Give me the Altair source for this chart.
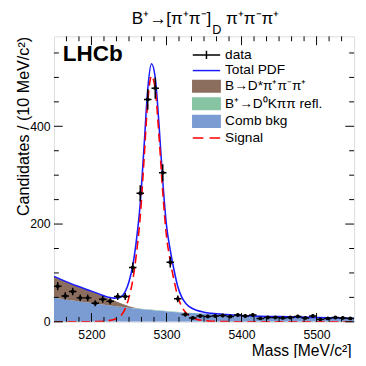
import altair as alt
import pandas as pd
import numpy as np

# ---------------- data ----------------
bin_centers = [5155, 5165, 5175, 5185, 5195, 5205, 5215, 5225, 5235, 5245,
               5255, 5265, 5275, 5285, 5295, 5305, 5315, 5325, 5335, 5345,
               5355, 5365, 5375, 5385, 5395, 5405, 5415, 5425, 5435, 5445,
               5455, 5465, 5475, 5485, 5495, 5505, 5515, 5525, 5535, 5545]
counts = [73, 53, 62, 49, 49, 38, 46, 42, 52, 52,
          111, 263, 455, 478, 305, 122, 47, 15, 8, 12,
          11, 12, 13, 11, 14, 12, 14, 7, 9, 9,
          8, 9, 11, 8, 12, 5, 7, 9, 8, 7]

curve_mass = [5150, 5180, 5200, 5210, 5220, 5225, 5230, 5235, 5240, 5245,
              5250, 5255, 5260, 5265, 5270, 5275, 5280, 5285, 5290, 5295,
              5300, 5305, 5310, 5315, 5320, 5325, 5330, 5340, 5350, 5360,
              5380, 5400, 5450, 5500, 5550]
comb_bkg = [50, 42.5, 38.5, 36.5, 34.5, 33.5, 32.5, 31.6, 30.7, 29.8,
            28.9, 28, 27.2, 26.4, 25.6, 24.8, 24.1, 23.4, 22.7, 22,
            21.4, 20.8, 20.2, 19.6, 19, 18.4, 17.9, 17.5, 16.8, 16,
            14.3, 12.8, 10.5, 8.8, 7.4]
refl_bkg = [0, 0, 0, 0, 0, 0, 0, 0, 0, 0,
            0.1, 0.3, 0.5, 0.7, 0.8, 0.9, 1.0, 1.0, 1.0, 1.0,
            0.9, 0.9, 0.8, 0.8, 0.7, 0.7, 0.6, 0.5, 0.3, 0.2,
            0.1, 0, 0, 0, 0]
dstar_bkg = [43, 31, 24, 20, 15, 13, 11, 9, 7, 5,
             3, 1.5, 0.5, 0, 0, 0, 0, 0, 0, 0,
             0, 0, 0, 0, 0, 0, 0, 0, 0, 0,
             0, 0, 0, 0, 0]
signal = [0, 0.1, 0.3, 0.7, 1.8, 3, 5, 8, 14, 27,
          50, 85, 140, 215, 330, 450, 503, 475, 380, 265,
          175, 125, 85, 52, 32, 20, 13, 5.5, 2.5, 1.2,
          0.4, 0.2, 0.1, 0, 0]

legend_names = ["data", "Total PDF", "B→D*π⁺π⁻π⁺", "B⁺→D⁰Kππ refl.", "Comb bkg", "Signal"]
legend_colors = ["#000000", "#1a1aff", "#8c6e5f", "#86c4a4", "#7b9bd3", "#ff0000"]
legend_paths = ["M-2,0H2M0,-0.6V0.6",
                "M-2,0H2",
                "M-2,-0.85H2V0.85H-2Z",
                "M-2,-0.85H2V0.85H-2Z",
                "M-2,-0.85H2V0.85H-2Z",
                "M-2,0H-0.45M0.45,0H2"]

x_major = [5200, 5300, 5400, 5500]
x_minor = [5166.67, 5183.33, 5216.67, 5233.33, 5250, 5266.67, 5283.33,
           5316.67, 5333.33, 5350, 5366.67, 5383.33, 5416.67, 5433.33,
           5450, 5466.67, 5483.33, 5516.67, 5533.33]
y_major = [0, 200, 400]
y_minor = [50, 100, 150, 250, 300, 350, 450, 500, 550]

X_DOMAIN = [5150, 5550]
Y_DOMAIN = [0, 584]
W, H = 307, 292
FONT = "Liberation Sans"

# ---------------- frames ----------------
d = pd.DataFrame({"m": bin_centers, "n": counts})
err = np.sqrt(d["n"])
d["lo"] = d["n"] - err
d["hi"] = d["n"] + err
d["mlo"] = d["m"] - 5
d["mhi"] = d["m"] + 5

c = pd.DataFrame({"m": curve_mass, "comb": comb_bkg})
c["zero"] = 0.0
c["c1"] = c["comb"] + np.array(refl_bkg)
c["c2"] = c["c1"] + np.array(dstar_bkg)
c["signal"] = signal
c["total"] = c["c2"] + c["signal"]

xscale = alt.Scale(domain=X_DOMAIN, nice=False, zero=False)
yscale = alt.Scale(domain=Y_DOMAIN, nice=False)

xaxis = alt.Axis(values=x_major, format="d", ticks=False, domain=False, grid=False,
                 labelPadding=7, labelFontSize=12.5, labelFont=FONT, labelColor="#000",
                 title="Mass [MeV/c²]", titleFont=FONT, titleFontSize=16,
                 titleFontWeight="normal", titleColor="#000",
                 titleX=304, titleY=29, titleAlign="right", titleBaseline="middle")
yaxis = alt.Axis(values=y_major, format="d", ticks=False, domain=False, grid=False,
                 labelPadding=4, labelFontSize=12.5, labelFont=FONT, labelColor="#000",
                 title="Candidates / (10 MeV/c²)", titleFont=FONT, titleFontSize=16.5,
                 titleFontWeight="normal", titleColor="#000", titleAngle=270,
                 titleX=-31, titleY=0, titleAlign="right", titleBaseline="middle")


def X(field):
    return alt.X(field, type="quantitative", scale=xscale, axis=xaxis)


def Y(field):
    return alt.Y(field, type="quantitative", scale=yscale, axis=yaxis)


base_c = alt.Chart(c)

comb_area = base_c.mark_area(color="#7b9bd3", interpolate="monotone", clip=True).encode(
    x=X("m"), y=Y("comb"), y2="zero")
refl_area = base_c.mark_area(color="#86c4a4", interpolate="monotone", clip=True).encode(
    x=X("m"), y=Y("c1"), y2="comb")
dstar_area = base_c.mark_area(color="#8c6e5f", interpolate="monotone", clip=True).encode(
    x=X("m"), y=Y("c2"), y2="c1")
total_line = base_c.mark_line(color="#1a1aff", strokeWidth=1.6, interpolate="monotone",
                              clip=True).encode(x=X("m"), y=Y("total"))
sig_line = base_c.mark_line(color="#ff0000", strokeWidth=1.6, strokeDash=[9, 5],
                            interpolate="monotone", clip=True).encode(x=X("m"), y=Y("signal"))

base_d = alt.Chart(d)
verr = base_d.mark_rule(color="#000", strokeWidth=1.5, clip=True).encode(
    x=X("m"), y=Y("lo"), y2="hi")
herr = base_d.mark_rule(color="#000", strokeWidth=1.5, clip=True).encode(
    x=X("mlo"), x2="mhi", y=Y("n"))
pts = base_d.mark_point(filled=True, shape="circle", size=16, color="#000",
                        opacity=1, clip=True).encode(x=X("m"), y=Y("n"))

# inward ticks (ROOT style frame)
ty_major = alt.Chart(pd.DataFrame({"v": y_major}))
ty_minor = alt.Chart(pd.DataFrame({"v": y_minor}))
tx_major = alt.Chart(pd.DataFrame({"v": x_major}))
tx_minor = alt.Chart(pd.DataFrame({"v": x_minor}))
tick_layers = []
for ch, ln in [(ty_major, 9), (ty_minor, 5)]:
    tick_layers.append(ch.mark_rule(color="#000", strokeWidth=1).encode(
        y=Y("v"), x=alt.value(0), x2=alt.value(ln)))
    tick_layers.append(ch.mark_rule(color="#000", strokeWidth=1).encode(
        y=Y("v"), x=alt.value(W), x2=alt.value(W - ln)))
for ch, ln in [(tx_major, 9), (tx_minor, 5)]:
    tick_layers.append(ch.mark_rule(color="#000", strokeWidth=1).encode(
        x=X("v"), y=alt.value(H), y2=alt.value(H - ln)))
    tick_layers.append(ch.mark_rule(color="#000", strokeWidth=1).encode(
        x=X("v"), y=alt.value(0), y2=alt.value(ln)))

# legend (drawn by Vega from a hidden layer)
leg = alt.Chart(pd.DataFrame({"name": legend_names})).mark_point(
    filled=True, opacity=1, size=196, clip=True, strokeWidth=1.5).encode(
    x=alt.value(-1000), y=alt.value(-1000),
    shape=alt.Shape("name:N", sort=legend_names,
                    scale=alt.Scale(domain=legend_names, range=legend_paths),
                    legend=alt.Legend(orient="none", legendX=148, legendY=11, title=None,
                                      labelFontSize=14, labelFont=FONT, labelColor="#000",
                                      symbolSize=196, symbolStrokeWidth=1.5,
                                      rowPadding=0, labelOffset=11, padding=0,
                                      labelLimit=300)),
    fill=alt.Fill("name:N", sort=legend_names,
                  scale=alt.Scale(domain=legend_names, range=legend_colors)),
    stroke=alt.Stroke("name:N", sort=legend_names,
                      scale=alt.Scale(domain=legend_names, range=legend_colors)),
)

# title pieces and LHCb label
t1 = alt.Chart(pd.DataFrame({"t": ["B⁺→[π⁺π⁻]"]})).mark_text(
    font=FONT, fontSize=17.5, align="right", baseline="middle", color="#000").encode(
    text="t:N", x=alt.value(161), y=alt.value(-18))
t2 = alt.Chart(pd.DataFrame({"t": ["D"]})).mark_text(
    font=FONT, fontSize=13, align="left", baseline="middle", color="#000").encode(
    text="t:N", x=alt.value(162), y=alt.value(-6))
t3 = alt.Chart(pd.DataFrame({"t": ["π⁺π⁻π⁺"]})).mark_text(
    font=FONT, fontSize=17.5, align="left", baseline="middle", color="#000").encode(
    text="t:N", x=alt.value(176), y=alt.value(-18))
lhcb = alt.Chart(pd.DataFrame({"t": ["LHCb"]})).mark_text(
    font=FONT, fontSize=23, fontWeight="bold", align="left", baseline="middle",
    color="#000").encode(text="t:N", x=alt.value(9), y=alt.value(18))

chart = alt.layer(
    comb_area, refl_area, dstar_area, total_line, sig_line, verr, herr, pts,
    *tick_layers, leg, t1, t2, t3, lhcb
).properties(
    width=W, height=H,
    autosize=alt.AutoSizeParams(type="none"),
    padding={"left": 47, "top": 25, "right": 4, "bottom": 33},
).configure_view(
    stroke="#000", strokeWidth=1
).configure(background="white")

chart.save("out.html", embed_options={"renderer": "svg", "actions": False})
